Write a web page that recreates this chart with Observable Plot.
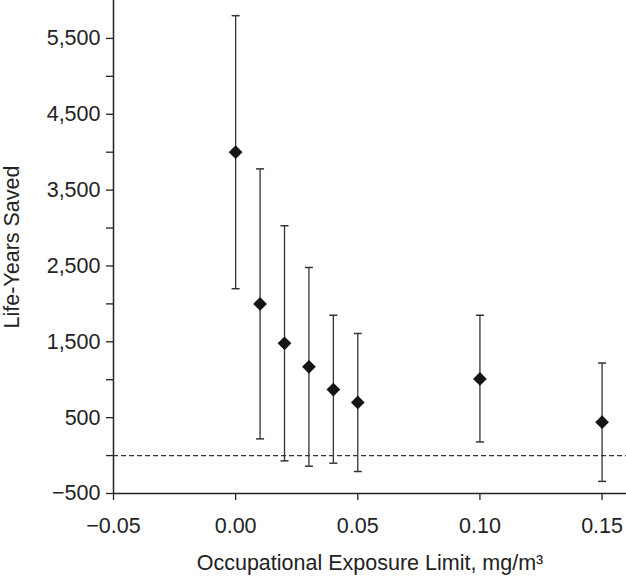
<!DOCTYPE html>
<html>
<head>
<meta charset="utf-8">
<script src="https://cdn.jsdelivr.net/npm/d3@7"></script>
<script src="https://cdn.jsdelivr.net/npm/@observablehq/plot@0.6"></script>
<style>
  html, body { margin: 0; padding: 0; background: #fff; }
  #chart svg { display: block; }
</style>
</head>
<body>
<div id="chart"></div>
<script>
// Data
const limits    = [0, 0.01, 0.02, 0.03, 0.04, 0.05, 0.10, 0.15];
const estimates = [4000, 2000, 1480, 1170, 870, 700, 1010, 440];
const lower     = [2200, 220, -70, -140, -100, -210, 180, -340];
const upper     = [5800, 3780, 3030, 2480, 1850, 1610, 1850, 1220];

const xTicks = [-0.05, 0, 0.05, 0.10, 0.15];
const yTicks = [-500, 0, 500, 1000, 1500, 2000, 2500, 3000, 3500, 4000, 4500, 5000, 5500];
const xDomain = [-0.05, 0.16];
const yDomain = [-500, 6000];
const xTitle = "Occupational Exposure Limit, mg/m³";
const yTitle = "Life-Years Saved";

const rows = limits.map((x, i) => ({x, est: estimates[i], lo: lower[i], hi: upper[i]}));

const cap = {
  draw(context, size) {
    const r = Math.sqrt(size / Math.PI);
    context.moveTo(-r, 0);
    context.lineTo(r, 0);
  }
};

const ink = "#222";
const chart = Plot.plot({
  width: 626,
  height: 576,
  marginLeft: 113,
  marginRight: 0,
  marginTop: 0,
  marginBottom: 83,
  style: {fontFamily: "'Liberation Sans', Arial, sans-serif", fontSize: "21.5px", color: ink, background: "#fff"},
  x: {domain: xDomain},
  y: {domain: yDomain},
  marks: [
    Plot.axisX({ticks: xTicks, tickFormat: d3.format(".2f"), tickSize: 7, tickPadding: 17, label: null, stroke: ink, strokeWidth: 1.3}),
    Plot.axisY({ticks: yTicks, tickFormat: d => ((d + 500) % 1000 === 0 ? d3.format(",")(d) : ""), tickSize: 7, tickPadding: 6, label: null, stroke: ink, strokeWidth: 1.3}),
    Plot.ruleX([xDomain[0]], {stroke: ink, strokeWidth: 1.5}),
    Plot.ruleY([yDomain[0]], {stroke: ink, strokeWidth: 1.5}),
    Plot.ruleY([0], {stroke: "#333", strokeWidth: 1.2, strokeDasharray: "5,3"}),
    Plot.ruleX(rows, {x: "x", y1: "lo", y2: "hi", stroke: "#333", strokeWidth: 1.3}),
    Plot.dot(rows, {x: "x", y: "lo", symbol: cap, r: 4, stroke: "#333", strokeWidth: 1.5, fill: "none"}),
    Plot.dot(rows, {x: "x", y: "hi", symbol: cap, r: 4, stroke: "#333", strokeWidth: 1.5, fill: "none"}),
    Plot.dot(rows, {x: "x", y: "est", symbol: "diamond2", r: 6.2, fill: "#151515", stroke: "none"}),
    Plot.text([xTitle], {text: d => d, frameAnchor: "bottom", dy: 70, lineAnchor: "middle", textAnchor: "middle", fill: ink}),
    Plot.text([yTitle], {text: d => d, frameAnchor: "left", dx: -101.5, rotate: -90, lineAnchor: "middle", textAnchor: "middle", fill: ink})
  ]
});
document.getElementById("chart").appendChild(chart);
</script>
</body>
</html>
